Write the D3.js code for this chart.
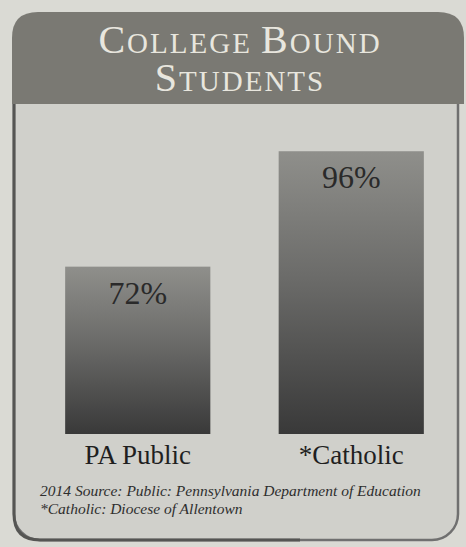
<!DOCTYPE html>
<html>
<head>
<meta charset="utf-8">
<script src="https://cdn.jsdelivr.net/npm/d3@7"></script>
<style>
  html, body { margin: 0; padding: 0; background: #d8d8d2; }
  svg { display: block; }
</style>
</head>
<body>
<svg id="chart" width="466" height="547"></svg>
<script>
const categories = ["PA Public", "*Catholic"];
const values = [72, 96];
const valueLabels = ["72%", "96%"];
const titleLines = ["College Bound", "Students"];
const sourceLines = [
  "2014 Source: Public: Pennsylvania Department of Education",
  "*Catholic: Diocese of Allentown"
];

const W = 466, H = 547;
const svg = d3.select("#chart");
const defs = svg.append("defs");
const SERIF = "'Liberation Serif', 'DejaVu Serif', serif";

const grad = defs.append("linearGradient")
  .attr("id", "barGrad").attr("x1", 0).attr("y1", 0).attr("x2", 0).attr("y2", 1);
grad.append("stop").attr("offset", "0%").attr("stop-color", "#8f8f8b");
grad.append("stop").attr("offset", "45%").attr("stop-color", "#6b6b69");
grad.append("stop").attr("offset", "100%").attr("stop-color", "#393939");

// page background
svg.append("rect").attr("width", W).attr("height", H).attr("fill", "#dadad4");

// panel with rounded corners
svg.append("rect")
  .attr("x", 14).attr("y", 14).attr("width", 444).attr("height", 526)
  .attr("rx", 26).attr("ry", 26)
  .attr("fill", "#d0d0cb")
  .attr("stroke", "#707070").attr("stroke-width", 2.5);
// darker left and bottom edge
svg.append("path")
  .attr("d", "M14,100 L14,514 Q14,540 40,540 L300,540")
  .attr("fill", "none").attr("stroke", "#555553").attr("stroke-width", 3);

// header band (rounded top corners only)
const hx = 12, hy = 12, hw = 452, hh = 92, r = 26;
svg.append("path")
  .attr("d", `M${hx},${hy + hh} L${hx},${hy + r} Q${hx},${hy} ${hx + r},${hy} L${hx + hw - r},${hy} Q${hx + hw},${hy} ${hx + hw},${hy + r} L${hx + hw},${hy + hh} Z`)
  .attr("fill", "#7a7973");

// title in small caps built from tspans (one text element, two lines)
const title = svg.append("text")
  .attr("text-anchor", "middle")
  .attr("font-family", SERIF)
  .attr("fill", "#e8e6de")
  .attr("letter-spacing", 2);
const titleY = [53, 91];
titleLines.forEach((line, i) => {
  const lineSpan = title.append("tspan").attr("x", 240).attr("y", titleY[i]);
  line.split(" ").forEach((word, wi) => {
    if (wi > 0) lineSpan.append("tspan").attr("font-size", 29).text(" ");
    lineSpan.append("tspan").attr("font-size", 40).text(word[0].toUpperCase());
    lineSpan.append("tspan").attr("font-size", 29).text(word.slice(1).toUpperCase());
  });
});

// scales
const x = d3.scaleBand().domain(categories).range([31, 458])
  .paddingInner(0.32).paddingOuter(0.16);
const y = d3.scaleLinear().domain([37.2, 100]).range([434, 132]);

const data = categories.map((c, i) => ({ c, v: values[i], label: valueLabels[i] }));

svg.selectAll("rect.bar").data(data).enter().append("rect")
  .attr("class", "bar")
  .attr("x", d => x(d.c))
  .attr("y", d => y(d.v))
  .attr("width", x.bandwidth())
  .attr("height", d => y(y.domain()[0]) - y(d.v))
  .attr("fill", "url(#barGrad)");

svg.selectAll("text.val").data(data).enter().append("text")
  .attr("class", "val")
  .attr("x", d => x(d.c) + x.bandwidth() / 2)
  .attr("y", d => y(d.v) + 37)
  .attr("text-anchor", "middle")
  .attr("font-family", SERIF)
  .attr("font-size", 32)
  .attr("fill", "#2a2a2a")
  .text(d => d.label);

svg.selectAll("text.cat").data(data).enter().append("text")
  .attr("class", "cat")
  .attr("x", d => x(d.c) + x.bandwidth() / 2)
  .attr("y", 464)
  .attr("text-anchor", "middle")
  .attr("font-family", SERIF)
  .attr("font-size", 27)
  .attr("fill", "#1f1f1f")
  .text(d => d.c);

sourceLines.forEach((s, i) => {
  svg.append("text")
    .attr("x", 40).attr("y", 496 + i * 18)
    .attr("font-family", SERIF)
    .attr("font-style", "italic")
    .attr("font-size", 15.5)
    .attr("fill", "#2e2e2e")
    .text(s);
});
</script>
</body>
</html>
